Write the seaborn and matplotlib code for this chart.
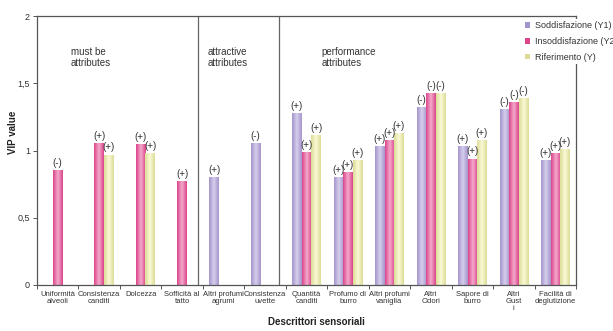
import numpy as np
import pandas as pd
import matplotlib
matplotlib.use("Agg")
import matplotlib.pyplot as plt
import seaborn as sns
from matplotlib.colors import LinearSegmentedColormap
from matplotlib.patches import Patch

# --- data ---
categories = ["Uniformità\nalveoli", "Consistenza\ncanditi", "Dolcezza", "Sofficità al\ntatto",
              "Altri profumi\nagrumi", "Consistenza\nuvette", "Quantità\ncanditi", "Profumo di\nburro",
              "Altri profumi\nvaniglia", "Altri\nOdori", "Sapore di\nburro", "Altri\nGust\ni",
              "Facilità di\ndeglutizione"]
series = ["Soddisfazione (Y1)", "Insoddisfazione (Y2)", "Riferimento (Y)"]
soddisfazione = [np.nan, np.nan, np.nan, np.nan, 0.80, 1.055, 1.28, 0.80, 1.03, 1.32, 1.03, 1.31, 0.93]
insoddisfazione = [0.855, 1.055, 1.05, 0.77, np.nan, np.nan, 0.99, 0.84, 1.08, 1.43, 0.94, 1.36, 0.98]
riferimento = [np.nan, 0.97, 0.98, np.nan, np.nan, np.nan, 1.115, 0.93, 1.13, 1.43, 1.08, 1.39, 1.01]
segni_sodd = ["", "", "", "", "(+)", "(-)", "(+)", "(+)", "(+)", "(-)", "(+)", "(-)", "(+)"]
segni_insodd = ["(-)", "(+)", "(+)", "(+)", "", "", "(+)", "(+)", "(+)", "(-)", "(+)", "(-)", "(+)"]
segni_rif = ["", "(+)", "(+)", "", "", "", "(+)", "(+)", "(+)", "(-)", "(+)", "(-)", "(+)"]
gruppi = ["must be\nattributes", "attractive\nattributes", "performance\nattributes"]

edge_cols = ["#a494cc", "#dc4489", "#dcdc98"]
light_cols = ["#d6cfec", "#f4aacd", "#fafad6"]

df = pd.DataFrame({
    "cat": categories * 3,
    "serie": np.repeat(series, len(categories)),
    "val": soddisfazione + insoddisfazione + riferimento,
}).dropna()
segni = {0: segni_sodd, 1: segni_insodd, 2: segni_rif}

plt.rcParams["font.family"] = ["Liberation Sans", "DejaVu Sans"]
fig = plt.figure(figsize=(6.13, 3.31), dpi=100)
ax = fig.add_axes([37 / 613, 46 / 331, 539 / 613, 269 / 331])

sns.barplot(data=df, x="cat", y="val", hue="serie", order=categories, hue_order=series,
            palette=edge_cols, width=0.69, ax=ax, legend=False, linewidth=0)

# cylinder-like shading on every bar, plus the (+)/(-) marks
for k, cont in enumerate(ax.containers):
    cmap = LinearSegmentedColormap.from_list("c%d" % k, [edge_cols[k], light_cols[k], edge_cols[k]])
    grad = np.linspace(0, 1, 64).reshape(1, -1)
    for bar in cont:
        x0, w, h = bar.get_x(), bar.get_width(), bar.get_height()
        if not np.isfinite(h):
            continue
        im = ax.imshow(grad, cmap=cmap, extent=(x0, x0 + w, 0, h), aspect="auto",
                       interpolation="bilinear", zorder=bar.get_zorder())
        im.set_clip_path(bar)
        idx = int(round(x0 + w / 2))
        ax.annotate(segni[k][idx], (x0 + w / 2, h), xytext=(0, 1.5), textcoords="offset points",
                    ha="center", va="bottom", fontsize=7, color="#333333")

ax.set_xlim(-0.5, 12.5)
ax.set_ylim(0, 2)
ax.set_yticks([0, 0.5, 1, 1.5, 2])
ax.set_yticklabels(["0", "0,5", "1", "1,5", "2"], fontsize=6.5, color="#333333")
ax.set_xticks(np.arange(-0.5, 12.6, 1))
ax.set_xticklabels([])
ax.set_xticks(np.arange(len(categories)), minor=True)
ax.set_xticklabels(categories, minor=True, fontsize=5.5, color="#333333", linespacing=1.0)
ax.tick_params(axis="x", which="minor", length=0, pad=4)
ax.tick_params(axis="x", which="major", length=3, width=0.7, color="#555555")
ax.tick_params(axis="y", length=3, width=0.7, color="#555555", pad=2)
ax.set_xlabel("")
ax.set_ylabel("")
for s in ax.spines.values():
    s.set_color("#555555")
    s.set_linewidth(0.9)

# separators between the attribute groups
for xv in [3.38, 5.33]:
    ax.axvline(xv, color="#666666", lw=0.9, zorder=1)

for xv, txt in zip([0.32, 3.62, 6.37], gruppi):
    ax.text(xv, 1.77, txt, fontsize=7, va="top", ha="left", color="#333333", linespacing=1.15)

fig.text(316 / 613, 9 / 331, "Descrittori sensoriali", fontsize=7, fontweight="bold",
         ha="center", va="center", color="#222222")
fig.text(13 / 613, (331 - 132) / 331, "VIP value", fontsize=7, fontweight="bold",
         rotation=90, ha="center", va="center", color="#222222")

handles = [Patch(facecolor=c) for c in edge_cols]
leg = ax.legend(handles, series, loc="upper left", bbox_to_anchor=(518 / 613, 317 / 331),
                bbox_transform=fig.transFigure, fontsize=6.5, frameon=True, framealpha=1,
                facecolor="white", edgecolor="none", handlelength=0.55, handleheight=0.55,
                handletextpad=0.5, labelspacing=0.75, borderpad=0.3, fancybox=False)
for t in leg.get_texts():
    t.set_color("#333333")

fig.savefig("out.png", dpi=100)
